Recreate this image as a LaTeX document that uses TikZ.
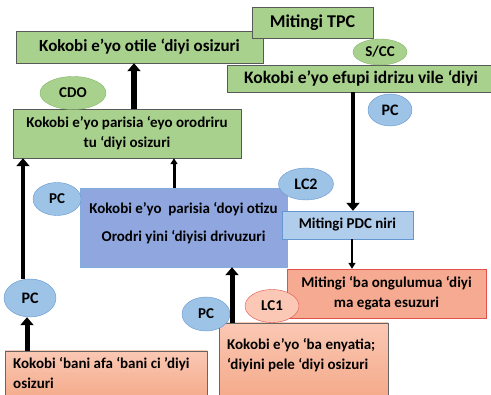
\documentclass[tikz,border=0pt]{standalone}
\usepackage{fontspec}
\setmainfont{Carlito}
\usetikzlibrary{arrows.meta, shapes.geometric}

\definecolor{leaf}{RGB}{169,209,142}
\definecolor{leafline}{RGB}{130,180,100}
\definecolor{sky}{RGB}{157,195,230}
\definecolor{skyline}{RGB}{100,150,210}
\definecolor{lilac}{RGB}{143,167,222}
\definecolor{pale}{RGB}{176,205,236}
\definecolor{coral}{RGB}{245,170,145}
\definecolor{coralline}{RGB}{225,80,75}
\definecolor{peachtop}{RGB}{250,200,180}
\definecolor{peachbot}{RGB}{244,168,135}

\begin{document}
\begin{tikzpicture}[x=1pt, y=-1pt,
    every node/.style={font=\bfseries\fontsize{15}{20}\selectfont, inner sep=0pt},
    big/.style={font=\bfseries\fontsize{#1}{20}\selectfont},
    gbox/.style={rectangle, draw=black!65, fill=leaf},
    gell/.style={ellipse, draw=leafline, fill=leaf},
    pcell/.style={ellipse, draw=skyline, fill=sky},
    rbox/.style={rectangle, draw=black!60, top color=peachtop, bottom color=peachbot},
    fat/.style={line width=5pt, -{Triangle[length=8pt, width=13pt]}},
    slim/.style={line width=2.5pt, -{Triangle[length=6pt, width=7pt]}}]
    \useasboundingbox (0,0) rectangle (491,395);

    % top row
    \node[gbox, big=17, minimum width=247, minimum height=32] (A) at (139.5,47) {Kokobi e’yo otile ‘diyi osizuri};
    \node[gbox, big=18, minimum width=121, minimum height=31] (T) at (312.5,22.5) {Mitingi TPC};
    \node[gbox, big=17.5, minimum width=268, minimum height=27] (B) at (361,78.5) {Kokobi e’yo efupi idrizu vile ‘diyi};
    \node[gell, minimum width=54, minimum height=26] (SCC) at (380,52) {S/CC};
    \node[pcell, big=16, minimum width=44, minimum height=32] (P1) at (390,110) {PC};

    % middle
    \node[gbox, minimum width=228, minimum height=49, align=center] (C) at (127,133.5) {Kokobi e’yo parisia ‘eyo orodriru\\tu ‘diyi osizuri};
    \node[gell, minimum width=66, minimum height=33] (CDO) at (73,93) {CDO};
    \node[rectangle, draw=skyline!80, fill=lilac, minimum width=207, minimum height=79] (D) at (183.5,227.5) {};
    \node[align=center, font=\bfseries\fontsize{15}{28}\selectfont] (Dt) at (183.5,223) {Kokobi e’yo\ \ parisia ‘doyi otizu\\Orodri yini ‘diyisi drivuzuri};
    \node[pcell, minimum width=48, minimum height=33] (P2) at (57,199) {PC};
    \node[pcell, big=16, minimum width=55, minimum height=32] (LC2) at (306,184) {LC2};
    \node[rectangle, draw=skyline, fill=pale, minimum width=131, minimum height=28] (E) at (347.5,225) {Mitingi PDC niri};

    % bottom
    \node[rectangle, draw=coralline, fill=coral, minimum width=199, minimum height=49, align=center] (F) at (386.5,293.5) {Mitingi ‘ba ongulumua ‘diyi\\ma egata esuzuri};
    \node[rbox, minimum width=169, minimum height=80] (G) at (303.5,363) {};
    \node[anchor=north west, align=left] (Gt) at (227,338) {Kokobi e’yo ‘ba enyatia;\\‘diyini pele ‘diyi osizuri};
    \node[ellipse, draw=coralline, fill=peachtop, minimum width=54, minimum height=33] (LC1) at (272,306) {LC1};
    \node[pcell, minimum width=48, minimum height=34] (P3) at (206,314) {PC};
    \node[rbox, minimum width=202, minimum height=52] (H) at (106,377) {};
    \node[anchor=north west, align=left] (Ht) at (13,357) {Kokobi ‘bani afa ‘bani ci ’diyi\\osizuri};
    \node[pcell, big=16, minimum width=52, minimum height=38] (P4) at (30,298) {PC};

    % links
    \draw[fat, line width=6pt] (C.north -| 134,0) -- (A.south -| 134,0);
    \draw[slim, line width=3pt] (D.north -| 174,0) -- (C.south -| 174,0);
    \draw[fat, line width=4.5pt] (P4.north -| 23,0) -- (C.south -| 23,0);
    \draw[fat] (H.north -| 27,0) -- (P4.south -| 27,0);
    \draw[fat] (G.north -| 232,0) -- (D.south -| 232,0);
    \draw[fat, line width=4pt] (B.south -| 353,0) -- (E.north -| 353,0);
    \draw[slim] (E.south -| 352,0) -- (F.north -| 352,0);
\end{tikzpicture}
\end{document}
